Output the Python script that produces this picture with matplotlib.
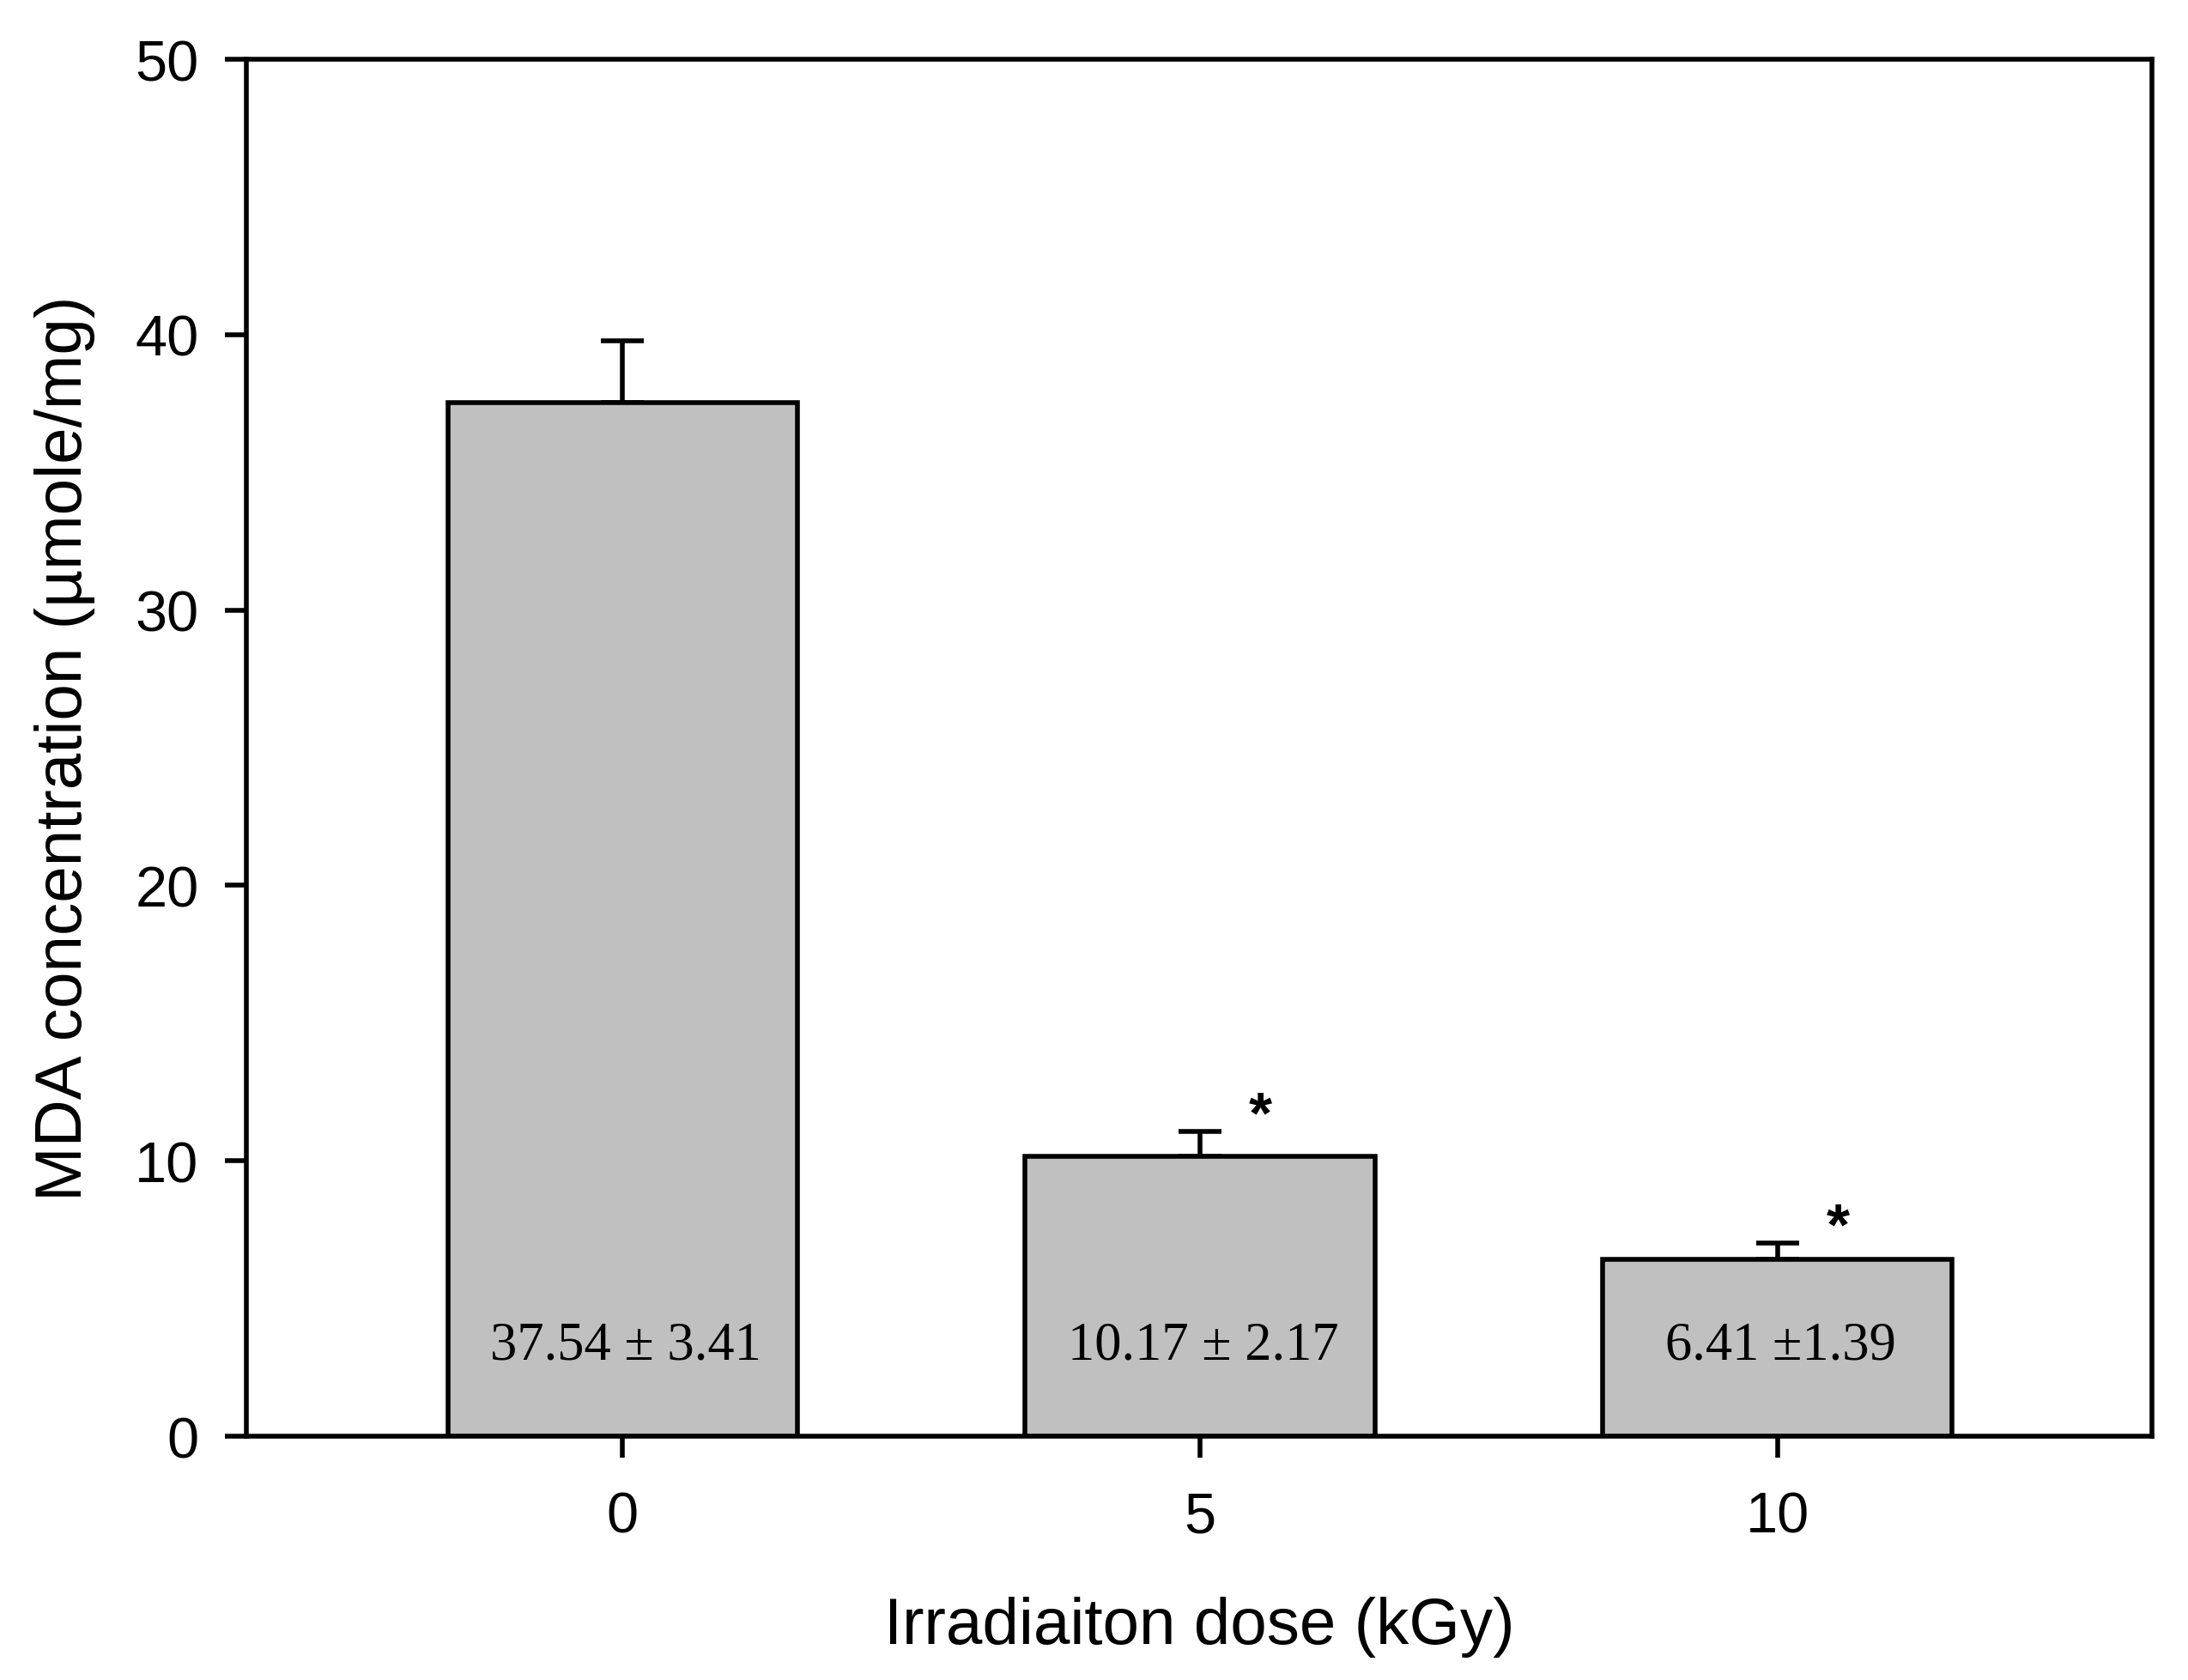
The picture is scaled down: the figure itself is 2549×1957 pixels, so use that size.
import numpy as np
import matplotlib
matplotlib.use('Agg')
import matplotlib.pyplot as plt

# values
doses = ['0', '5', '10']
mda_mean = [37.54, 10.17, 6.41]
mda_err = [2.25, 0.9, 0.6]   # drawn error bar length (upper only)
bar_labels = ['37.54 ± 3.41', '10.17 ± 2.17', '6.41 ±1.39']
signif = ['', '*', '*']

plt.rcParams['font.family'] = ['Liberation Sans', 'DejaVu Sans']

fig = plt.figure(figsize=(25.49, 19.58), dpi=100)
ax = fig.add_axes([0.1126, 0.1450, 0.8709, 0.8192])

x = np.arange(len(doses))
ax.bar(x, mda_mean, width=0.605, color='#c0c0c0', edgecolor='black',
       linewidth=4.0, zorder=2)
ax.errorbar(x, mda_mean, yerr=[np.zeros(len(x)), mda_err], fmt='none',
            ecolor='black', elinewidth=4.0, capsize=18, capthick=4.0, zorder=1)

for i in range(len(x)):
    ax.text(x[i] + 0.005, 3.3, bar_labels[i], ha='center', va='center',
            fontsize=45, family='Liberation Serif', zorder=3)
    if signif[i]:
        ax.text(x[i] + 0.105, mda_mean[i] + mda_err[i] + 0.55, signif[i],
                ha='center', va='center', fontsize=50, fontweight='bold')

ax.set_xlim(-0.651, 2.648)
ax.set_ylim(0, 50)
ax.set_xticks(x)
ax.set_xticklabels(doses)
ax.set_yticks([0, 10, 20, 30, 40, 50])

for s in ax.spines.values():
    s.set_linewidth(4.0)
ax.tick_params(axis='both', direction='out', length=18, width=4.0,
               labelsize=48)
ax.tick_params(axis='x', pad=28)
ax.tick_params(axis='y', pad=22)

ax.set_xlabel('Irradiaiton dose (kGy)', fontsize=55, va='center')
ax.xaxis.set_label_coords(0.5, -0.138)
ax.set_ylabel('MDA concentration (\u00b5mole/mg)', fontsize=55, va='center')
ax.yaxis.set_label_coords(-0.0955, 0.5)

fig.savefig('out.png', dpi=100)
